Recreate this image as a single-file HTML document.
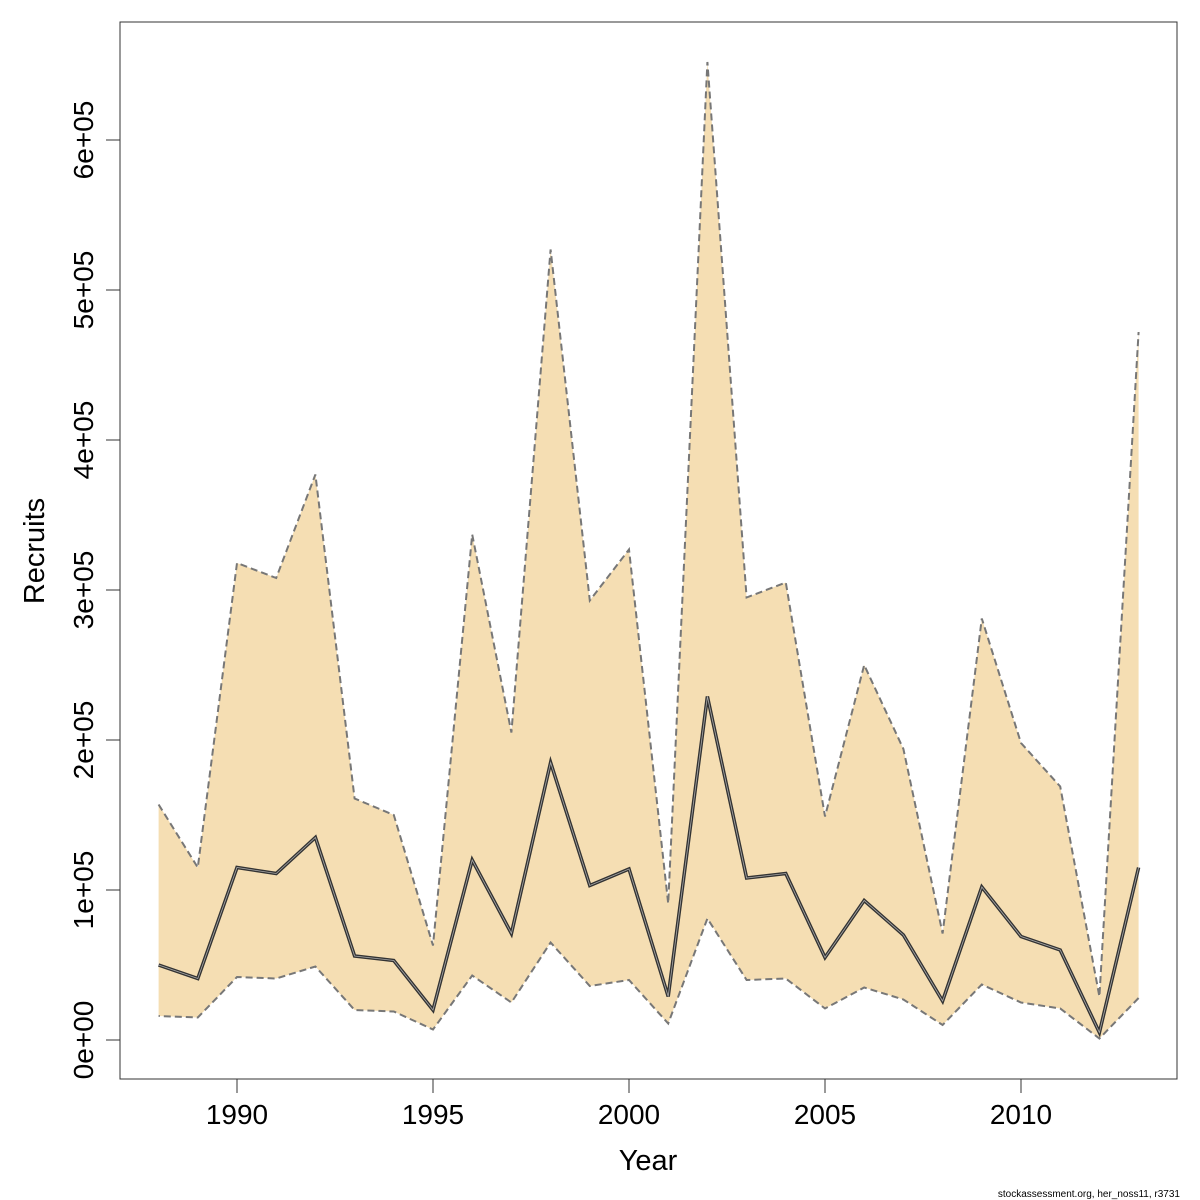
<!DOCTYPE html>
<html><head><meta charset="utf-8"><style>
body{margin:0;background:#fff}
svg{display:block;font-family:"Liberation Sans","DejaVu Sans",sans-serif}
</style></head><body>
<svg id="chart" width="1200" height="1200" viewBox="0 0 1200 1200">
<rect x="120" y="22" width="1057" height="1057" fill="none" stroke="#333" stroke-width="1"/>
<g id="area"></g>
<g id="lines"></g>
<g id="xaxis"></g>
<g id="yaxis"></g>
<text x="648" y="1170" font-size="29" text-anchor="middle">Year</text>
<text transform="translate(44,551) rotate(-90)" font-size="29" text-anchor="middle">Recruits</text>
<text x="1180" y="1197" font-size="10" text-anchor="end">stockassessment.org, her_noss11, r3731</text>
</svg>
<script>
const years=[1988,1989,1990,1991,1992,1993,1994,1995,1996,1997,1998,1999,2000,2001,2002,2003,2004,2005,2006,2007,2008,2009,2010,2011,2012,2013];
const upper=[157,115,318,308,377,161,150,63,337,205,527,293,327,91,652,295,305,149,250,194,71,281,198,169,29,472].map(v=>v*1000);
const mid=[50,41,115,111,135,56,53,20,120,71,185,103,114,29,229,108,111,55,93,70,26,102,69,60,5,115].map(v=>v*1000);
const lower=[16,15,42,41,49,20,19,7,43,25,65,36,40,11,81,40,41,21,35,27,10,37,25,21,1,28].map(v=>v*1000);
const xTicks=[1990,1995,2000,2005,2010];
const yTicks=[0,100000,200000,300000,400000,500000,600000];
const yTickLabels=["0e+00","1e+05","2e+05","3e+05","4e+05","5e+05","6e+05"];
const NS="http://www.w3.org/2000/svg";
const X=yr=>237+(yr-1990)*39.2;
const Y=v=>1040-v*0.0015;
function mk(tag,attrs,parent){const e=document.createElementNS(NS,tag);for(const k in attrs)e.setAttribute(k,attrs[k]);parent.appendChild(e);return e;}
const area=document.getElementById('area'),lines=document.getElementById('lines');
const up=years.map((y,i)=>X(y)+','+Y(upper[i]));
const lo=years.map((y,i)=>X(y)+','+Y(lower[i])).reverse();
const poly=mk('polygon',{points:up.concat(lo).join(' '),fill:'#F5DEB3',stroke:'none'},area);


const uL=mk('polyline',{points:up.join(' '),fill:'none',stroke:'#777','stroke-width':2,'stroke-dasharray':'7,4'},lines);


const lL=mk('polyline',{points:lo.join(' '),fill:'none',stroke:'#777','stroke-width':2,'stroke-dasharray':'7,4'},lines);


const mp=years.map((y,i)=>X(y)+','+Y(mid[i])).join(' ');
const mL=mk('polyline',{points:mp,fill:'none',stroke:'#333','stroke-width':3.5},lines);


const mL2=mk('polyline',{points:mp,fill:'none',stroke:'#aaa','stroke-width':0.8},lines);


const xa=document.getElementById('xaxis');
mk('line',{x1:X(xTicks[0]),x2:X(xTicks[xTicks.length-1]),y1:1079,y2:1079,stroke:'#333'},xa);
xTicks.forEach(t=>{
 mk('line',{x1:X(t),x2:X(t),y1:1079,y2:1093,stroke:'#333'},xa);
 const tx=mk('text',{x:X(t),y:1124,'font-size':28,'text-anchor':'middle'},xa);
 tx.textContent=t;
 
 
});
const ya=document.getElementById('yaxis');
mk('line',{x1:120,x2:120,y1:Y(yTicks[0]),y2:Y(yTicks[yTicks.length-1]),stroke:'#333'},ya);
yTicks.forEach((t,i)=>{
 mk('line',{x1:106,x2:120,y1:Y(t),y2:Y(t),stroke:'#333'},ya);
 const tx=mk('text',{transform:`translate(93,${Y(t)}) rotate(-90)`,'font-size':28,'text-anchor':'middle'},ya);
 tx.textContent=yTickLabels[i];
 
 
});
</script>
</body></html>
